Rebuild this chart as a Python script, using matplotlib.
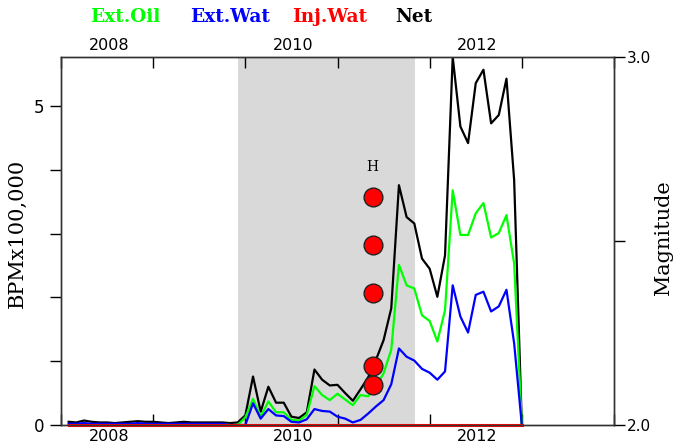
import matplotlib
matplotlib.use("Agg")
import matplotlib.pyplot as plt
import numpy as np

# monthly volumes, Feb 2008 .. Jan 2013, in barrels per month / 100,000
month_index = np.arange(1, 61)
years = 2008 + month_index / 12.0

net = [0.05, 0.04, 0.07, 0.05, 0.04, 0.04, 0.03, 0.04, 0.05, 0.06,
       0.05, 0.05, 0.04, 0.03, 0.04, 0.05, 0.04, 0.04, 0.04, 0.04,
       0.04, 0.03, 0.04, 0.15, 0.76, 0.21, 0.60, 0.35, 0.35, 0.13,
       0.11, 0.20, 0.87, 0.71, 0.62, 0.63, 0.50, 0.38, 0.56, 0.75,
       1.02, 1.33, 1.83, 3.76, 3.26, 3.16, 2.61, 2.45, 2.01, 2.66,
       5.77, 4.68, 4.42, 5.36, 5.57, 4.73, 4.86, 5.43, 3.84, 0.0]
ext_oil = [0.01, 0.01, 0.02, 0.01, 0.01, 0.01, 0.01, 0.01, 0.01, 0.02,
           0.01, 0.01, 0.01, 0.01, 0.01, 0.01, 0.01, 0.01, 0.01, 0.01,
           0.01, 0.0, 0.0, 0.12, 0.41, 0.13, 0.37, 0.20, 0.20, 0.08,
           0.07, 0.16, 0.61, 0.47, 0.39, 0.49, 0.40, 0.31, 0.47, 0.45,
           0.60, 0.81, 1.18, 2.51, 2.19, 2.14, 1.72, 1.63, 1.31, 1.80,
           3.68, 2.98, 2.98, 3.32, 3.48, 2.94, 3.01, 3.29, 2.53, 0.0]
ext_wat = [0.02, 0.02, 0.03, 0.02, 0.02, 0.02, 0.02, 0.02, 0.02, 0.03,
           0.02, 0.02, 0.02, 0.02, 0.02, 0.02, 0.02, 0.02, 0.02, 0.02,
           0.02, 0.0, 0.0, 0.0, 0.34, 0.10, 0.25, 0.15, 0.14, 0.05,
           0.04, 0.09, 0.25, 0.22, 0.21, 0.13, 0.10, 0.04, 0.08, 0.18,
           0.29, 0.39, 0.64, 1.20, 1.07, 1.01, 0.88, 0.82, 0.71, 0.84,
           2.19, 1.70, 1.45, 2.04, 2.09, 1.78, 1.86, 2.12, 1.28, 0.0]
inj_wat = [0.0] * 60

# earthquakes
quake_time = [2011.38, 2011.38, 2011.38, 2011.38, 2011.38]
quake_mag = [2.62, 2.49, 2.36, 2.16, 2.11]

span_start, span_end = 2009.92, 2011.84
year_ticks = np.arange(2008, 2015)
label_years = [2008, 2010, 2012]

W, H = 673, 446
fig = plt.figure(figsize=(W / 100, H / 100), dpi=100)
ax = fig.add_axes([61 / W, 1 - 425 / H, 553 / W, 368 / H])

ax.axvspan(span_start, span_end, color="#d9d9d9", lw=0, zorder=0)
ax.plot(years, net, color="black", lw=1.6, zorder=2)
ax.plot(years, ext_oil, color="#00ff00", lw=1.6, zorder=3)
ax.plot(years, ext_wat, color="#0000ff", lw=1.6, zorder=4)
ax.plot(years, inj_wat, color="#ff0000", lw=2.2, zorder=5, clip_on=False)

ax.set_xlim(2008, 2014)
ax.set_ylim(0, 5.77)

# x axis: year boundaries as ticks, labels at mid-year, both top and bottom
ax.set_xticks(year_ticks)
ax.set_xticklabels([])
ax.set_xticks([y + 0.52 for y in label_years], minor=True)
ax.set_xticklabels([str(y) for y in label_years], minor=True)
ax.tick_params(axis="x", which="major", direction="in", length=8, width=1,
               top=True, bottom=True)
ax.tick_params(axis="x", which="minor", length=0, top=True, labeltop=True,
               labelsize=11.5, pad=3)

ax.set_yticks([0, 1, 2, 3, 4, 5])
ax.set_yticklabels(["0", "", "", "", "", "5"])
ax.tick_params(axis="y", direction="out", length=8, width=1, labelsize=12,
               pad=4)

for s in ax.spines.values():
    s.set_linewidth(1.0)
    s.set_color("#333333")

ax2 = ax.twinx()
ax2.set_ylim(2.0, 3.0)
ax2.set_yticks([2.0, 2.5, 3.0])
ax2.set_yticklabels(["2.0", "", "3.0"])
ax2.tick_params(axis="y", direction="out", length=8, width=1, labelsize=11,
                pad=1)
ax2.plot(quake_time, quake_mag, "o", ms=13.5, mfc="#ff0000", mec="#222222",
         mew=1.0, zorder=6, clip_on=False)
ax2.text(quake_time[0], quake_mag[0] + 0.08, "H", family="DejaVu Serif",
         fontsize=10, ha="center", va="center")
for s in ax2.spines.values():
    s.set_linewidth(1.0)
    s.set_color("#333333")

# axis titles
fig.text(17 / W, 1 - 233 / H, "BPMx100,000", family="DejaVu Serif",
         fontsize=15, rotation=90, ha="center", va="center")
fig.text(663 / W, 1 - 238 / H, "Magnitude", family="DejaVu Serif",
         fontsize=15, rotation=90, ha="center", va="center")

# series names across the top
names = ["Ext.Oil", "Ext.Wat", "Inj.Wat", "Net"]
colors = ["#00ff00", "#0000ff", "#ff0000", "black"]
xs = [90, 190, 292, 395]
for name, c, x in zip(names, colors, xs):
    fig.text(x / W, 1 - 17 / H, name, color=c, family="DejaVu Serif",
             fontweight="bold", fontsize=13.3, ha="left", va="center")

fig.savefig("out.png", dpi=100)
